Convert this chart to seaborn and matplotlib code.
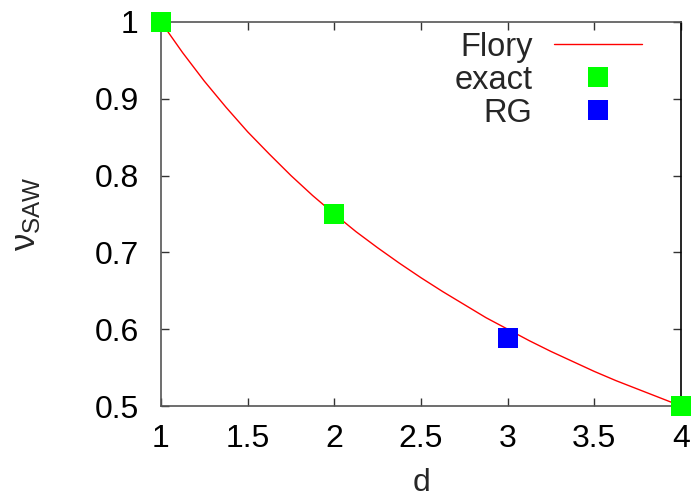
import matplotlib
matplotlib.use("Agg")
import matplotlib.pyplot as plt
import seaborn as sns
import pandas as pd
from matplotlib.ticker import FormatStrFormatter, MultipleLocator

# Data
flory_d = [1.0, 1.125, 1.25, 1.375, 1.5, 1.625, 1.75, 1.875, 2.0, 2.125, 2.25, 2.375,
           2.5, 2.625, 2.75, 2.875, 3.0, 3.125, 3.25, 3.375, 3.5, 3.625, 3.75, 3.875, 4.0]
flory_nu = [1.0, 0.96, 0.923, 0.889, 0.857, 0.828, 0.8, 0.774, 0.75, 0.727, 0.706, 0.686,
            0.667, 0.649, 0.632, 0.615, 0.6, 0.585, 0.571, 0.558, 0.545, 0.533, 0.522, 0.511, 0.5]
exact_d = [1, 2, 4]
exact_nu = [1.0, 0.75, 0.5]
rg_d = [3]
rg_nu = [0.588]

sns.set_theme(style="white")
plt.rcParams['font.family'] = ['Liberation Sans', 'DejaVu Sans']
plt.rcParams['mathtext.fontset'] = 'custom'
plt.rcParams['mathtext.rm'] = 'Liberation Sans'
plt.rcParams['mathtext.it'] = 'Liberation Sans'

fig = plt.figure(figsize=(6.93, 5.01), dpi=100)
ax = fig.add_axes([161/693, 95/501, 520/693, 384/501])

flory = pd.DataFrame({"d": flory_d, "nu": flory_nu})
exact = pd.DataFrame({"d": exact_d, "nu": exact_nu})
rg = pd.DataFrame({"d": rg_d, "nu": rg_nu})

sns.lineplot(data=flory, x="d", y="nu", ax=ax, color="#ff0000", linewidth=1.0,
             label="Flory", clip_on=False)
ax.plot(exact["d"], exact["nu"], linestyle="none", marker="s", markersize=15,
        color="#00ff00", markeredgewidth=0, label="exact", clip_on=False, zorder=5)
ax.plot(rg["d"], rg["nu"], linestyle="none", marker="s", markersize=15,
        color="#0000ff", markeredgewidth=0, label="RG", clip_on=False, zorder=5)

ax.set_xlim(1, 4)
ax.set_ylim(0.5, 1.0)
ax.xaxis.set_major_locator(MultipleLocator(0.5))
ax.yaxis.set_major_locator(MultipleLocator(0.1))
ax.xaxis.set_major_formatter(FormatStrFormatter('%g'))
ax.yaxis.set_major_formatter(FormatStrFormatter('%g'))

ax.tick_params(direction='in', length=6, width=1, colors='#333333', labelcolor='black',
               labelsize=23, top=True, right=True, bottom=True, left=True)
ax.tick_params(axis='x', pad=13)
ax.tick_params(axis='y', pad=16)
for s in ax.spines.values():
    s.set_color('#555555')
    s.set_linewidth(1.2)
ax.spines['right'].set_color('black')

ax.set_xlabel("d", fontsize=23, labelpad=10)
ax.set_ylabel(r"$\nu_{\rm SAW}$", fontsize=25, labelpad=37)

leg = ax.legend(loc='upper right', frameon=False, markerfirst=False, fontsize=23.5,
                handlelength=2.7, handletextpad=0.65, labelspacing=0.06,
                borderpad=0.0, bbox_to_anchor=(0.925, 0.975), borderaxespad=0.0)

fig.savefig("out.png", dpi=100)
